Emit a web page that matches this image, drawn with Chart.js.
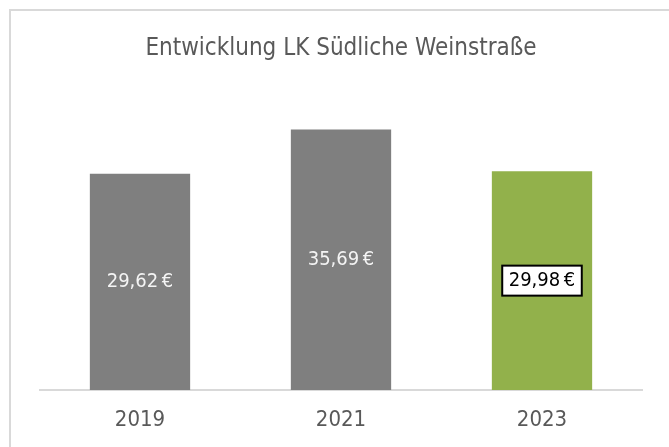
<!DOCTYPE html>
<html lang="de">
<head>
<meta charset="utf-8">
<title>Entwicklung LK Südliche Weinstraße</title>
<script src="https://cdn.jsdelivr.net/npm/chart.js@4"></script>
<style>
  html, body { margin: 0; padding: 0; background: #fff; overflow: hidden; }
  #frame {
    position: absolute; left: 9px; top: 9px;
    width: 666px; height: 450px;
    box-sizing: border-box;
    border: 2px solid #d9d9d9;
  }
</style>
</head>
<body>
<div id="frame"><canvas id="priceChart"></canvas></div>
<script>
// Chart data
const years = ['2019', '2021', '2023'];
const prices = [29.62, 35.69, 29.98];
const barColors = ['#7f7f7f', '#7f7f7f', '#92b14b'];
const boxedIndex = 2; // label drawn in a white box

const FONT = "'Liberation Sans Narrow', 'Arial Narrow', 'DejaVu Sans Condensed', sans-serif";

function formatEuro(v) {
  return v.toFixed(2).replace('.', ',') + '\u202f€';
}

// Draw value labels in the middle of each bar
const barLabels = {
  id: 'barLabels',
  afterDatasetsDraw(chart) {
    const ctx = chart.ctx;
    const meta = chart.getDatasetMeta(0);
    ctx.save();
    ctx.font = '20px ' + FONT;
    ctx.textAlign = 'center';
    ctx.textBaseline = 'middle';
    meta.data.forEach((bar, i) => {
      const text = formatEuro(prices[i]);
      const x = bar.x;
      const y = (bar.y + bar.base) / 2;
      if (i === boxedIndex) {
        const w = ctx.measureText(text).width + 13;
        const h = 30;
        ctx.fillStyle = '#ffffff';
        ctx.fillRect(x - w / 2, y - h / 2, w, h);
        ctx.lineWidth = 2;
        ctx.strokeStyle = '#000000';
        ctx.strokeRect(x - w / 2, y - h / 2, w, h);
        ctx.fillStyle = '#000000';
      } else {
        ctx.fillStyle = '#f4f4f4';
      }
      ctx.fillText(text, x, y);
    });
    ctx.restore();
  }
};

const ctx = document.getElementById('priceChart').getContext('2d');
new Chart(ctx, {
  type: 'bar',
  data: {
    labels: years,
    datasets: [{
      data: prices,
      backgroundColor: barColors,
      borderWidth: 0,
      barPercentage: 0.499,
      categoryPercentage: 1.0
    }]
  },
  options: {
    responsive: true,
    maintainAspectRatio: false,
    animation: false,
    layout: {
      padding: { top: 0, left: 28.5, right: 30.5, bottom: 7.5 }
    },
    plugins: {
      legend: { display: false },
      tooltip: { enabled: false },
      title: {
        display: true,
        text: 'Entwicklung LK Südliche Weinstraße',
        color: '#595959',
        font: { family: FONT, size: 24, weight: 'normal', lineHeight: 1.2 },
        padding: { top: 23.6, bottom: 34.6 }
      }
    },
    scales: {
      x: {
        grid: { display: false, drawTicks: false },
        border: { display: true, color: '#d9d9d9', width: 2 },
        ticks: {
          color: '#595959',
          padding: 16.5,
          font: { family: FONT, size: 22, lineHeight: 1.2 }
        }
      },
      y: {
        display: false,
        min: 0,
        max: 40
      }
    }
  },
  plugins: [barLabels]
});
</script>
</body>
</html>
